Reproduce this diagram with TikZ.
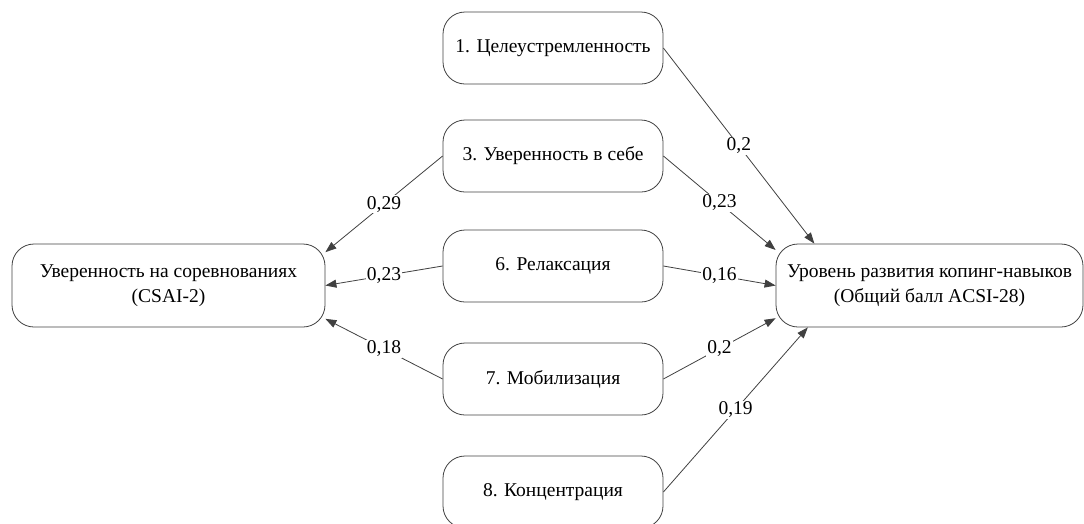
\documentclass[tikz,border=0pt]{standalone}
\usepackage{fontspec}
\setmainfont{Liberation Serif}
\newfontfamily\tms{Liberation Serif}
\usetikzlibrary{arrows.meta}
\begin{document}
\begin{tikzpicture}[x=1pt,y=-1pt,
  box/.style={draw=black!75, line width=0.8pt, rounded corners=22pt, align=center,
    font=\tms\fontsize{19.5}{25}\selectfont, inner sep=0pt},
  small/.style={box, minimum width=220pt, minimum height=72pt},
  big/.style={box, minimum height=83pt},
  edge/.style={draw=black!75, line width=0.8pt, -{Triangle[length=11pt,width=8pt]}},
  lbl/.style={fill=white, inner sep=1pt, font=\tms\fontsize{19.5}{20}\selectfont, pos=0.5}]
\useasboundingbox (0,0) rectangle (1084,523);
\clip (0,0) rectangle (1084,523);
\node[small] (n1) at (553,48) {1. Целеустремленность};
\node[small] (n3) at (553,156) {3. Уверенность в себе};
\node[small] (n6) at (553,266) {6. Релаксация};
\node[small] (n7) at (553,379) {7. Мобилизация};
\node[small] (n8) at (553,492) {8. Концентрация};
\node[big, minimum width=313pt] (L) at (168.5,285.5) {Уверенность на соревнованиях\\(CSAI-2)};
\node[big, minimum width=307pt] (R) at (929.5,285.5) {Уровень развития копинг-навыков\\(Общий балл ACSI-28)};
\draw[edge] (n1.east) -- node[lbl] {0,2} (R.160);
\draw[edge] (n3.east) -- node[lbl] {0,23} (R.167);
\draw[edge] (n6.east) -- node[lbl] {0,16} (R.west);
\draw[edge] (n7.east) -- node[lbl] {0,2} (R.192);
\draw[edge] (n8.east) -- node[lbl] {0,19} (R.199.6);
\draw[edge] (n3.west) -- node[lbl] {0,29} (L.12);
\draw[edge] (n6.west) -- node[lbl] {0,23} (L.east);
\draw[edge] (n7.west) -- node[lbl] {0,18} (L.-12);
\end{tikzpicture}
\end{document}
